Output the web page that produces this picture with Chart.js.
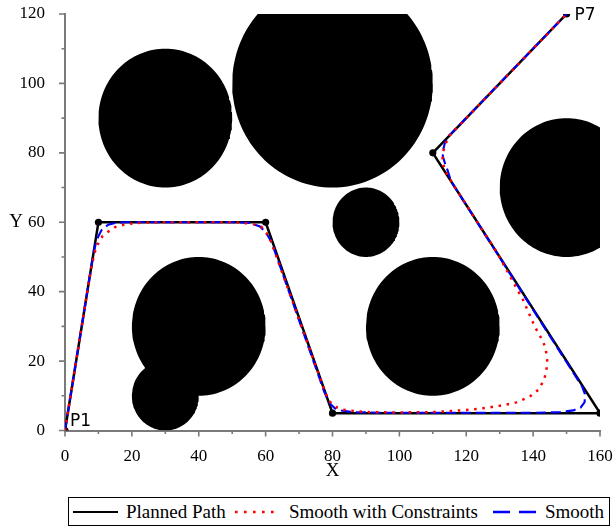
<!DOCTYPE html>
<html>
<head>
<meta charset="utf-8">
<script src="https://cdn.jsdelivr.net/npm/chart.js@4/dist/chart.umd.min.js"></script>
<style>
  body { margin: 0; background: #fff; }
  #wrap { position: relative; width: 614px; height: 528px; }
  #legend {
    position: absolute; left: 68px; top: 497px; width: 542px; height: 29px;
    border: 1px solid #000; box-sizing: border-box;
    font-family: "Liberation Serif", "Times New Roman", serif; font-size: 19px; color: #000;
  }
  .item { position: absolute; top: 0; height: 100%; display: flex; align-items: center; white-space: nowrap; }
  .item svg { display: block; }
</style>
</head>
<body>
<div id="wrap">
  <canvas id="chart" width="614" height="490"></canvas>
  <div id="legend"></div>
</div>
<script>
// Axis ticks
const xTicks = [0, 20, 40, 60, 80, 100, 120, 140, 160];
const yTicks = [0, 20, 40, 60, 80, 100, 120];
const xMinorTicks = [10, 30, 50, 70, 90, 110, 130, 150];
const yMinorTicks = [10, 30, 50, 70, 90, 110];

// Circular obstacles: centre and radius
const obstacleX = [30, 80, 90, 150, 110, 40, 30];
const obstacleY = [90, 100, 60, 70, 30, 30, 10];
const obstacleR = [20, 30, 10, 20, 20, 20, 10];

// Planned path waypoints P1..P7
const pathX = [0, 10, 60, 80, 160, 110, 150];
const pathY = [0, 60, 60, 5, 5, 80, 120];

// Smoothed path that respects the obstacle constraints
const constrainedX = [0, 7.0, 8.0, 8.7, 9.27, 10.26, 11.27, 12.95, 14.95, 18, 22, 28, 50, 55.8, 58.8, 60.6, 61.6,
  77.6, 78.6, 79.6, 81.2, 83.2, 85.2, 90, 100, 110, 115, 120, 125, 130, 135, 139, 141.5, 143.3, 144, 144.2,
  143.8, 143, 140.5, 137, 133.1, 129.3, 116.5, 114.4, 113.3, 112.9, 113.1, 113.9, 115.2, 150];
const constrainedY = [0, 42, 47.5, 50.5, 52.6, 54.5, 56.1, 57.3, 58.6, 59.4, 59.8, 60, 60, 59.6, 58.6, 56.5, 54.5,
  11.6, 9.3, 7.8, 6.7, 6.0, 5.7, 5.3, 5.2, 5.3, 5.6, 5.9, 6.4, 7.1, 8.1, 9.75, 11.7, 14.6, 17.5, 20.3,
  23.2, 25.6, 29.9, 37.6, 44.4, 51.1, 70.3, 73.5, 76, 78.2, 80.4, 82.8, 85.2, 120];

// Unconstrained smoothed path
const smoothX = [0, 8.5, 9.3, 9.96, 10.97, 12.95, 15, 18, 50, 55.3, 58.3, 59.8, 60.8, 61.8,
  77.5, 78.3, 79.4, 80.7, 82.2, 86, 95, 140, 148, 152, 154.2, 155.4, 155.5, 154.7,
  117.3, 115.4, 114.4, 113.6, 113.0, 113.1, 113.6, 114.6, 115.8, 150];
const smoothY = [0, 51, 54.2, 55.9, 57.8, 59.3, 59.8, 60, 60, 59.8, 58.8, 57.3, 55.9, 54.2,
  11.2, 9.6, 7.6, 6.4, 5.8, 5.3, 5.1, 5.1, 5.3, 5.8, 6.6, 8.2, 10.5, 12.6,
  69, 72, 75, 77.1, 79, 80.9, 82.8, 84.7, 85.9, 120];

const seriesNames = ['Planned Path', 'Smooth with Constraints', 'Smooth'];
const pointNames = ['P1', 'P7'];

const axisColor = '#7a7a7a';
const serif = '"Liberation Serif", "Times New Roman", serif';

const zip = (xs, ys) => xs.map((x, i) => ({ x, y: ys[i] }));

// Outline of each obstacle disc, traced in data units
function discOutline(cx, cy, r) {
  const pts = [];
  const n = 144;
  for (let k = 0; k <= n; k++) {
    const a = (2 * Math.PI * k) / n;
    pts.push({ x: cx + r * Math.cos(a), y: cy + r * Math.sin(a) });
  }
  return pts;
}

const obstacleSets = obstacleX.map((cx, i) => ({
  label: 'obstacle' + i,
  data: discOutline(cx, obstacleY[i], obstacleR[i]),
  borderWidth: 0,
  borderColor: '#000',
  backgroundColor: '#000',
  fill: 'shape',
  pointRadius: 0,
  clip: { left: 0, right: 0, top: 4, bottom: 0 },
  order: 5
}));

const datasets = [
  ...obstacleSets,
  {
    label: seriesNames[0],
    data: zip(pathX, pathY),
    borderColor: '#000',
    borderWidth: 2.5,
    pointRadius: 3.6,
    pointBackgroundColor: '#000',
    pointBorderWidth: 0,
    fill: false,
    order: 3
  },
  {
    label: seriesNames[2],
    data: zip(smoothX, smoothY),
    borderColor: '#0000ff',
    borderWidth: 2.1,
    borderDash: [10, 5],
    pointRadius: 0,
    fill: false,
    order: 2
  },
  {
    label: seriesNames[1],
    data: zip(constrainedX, constrainedY),
    borderColor: '#ff0000',
    borderWidth: 2.5,
    borderDash: [2.5, 5.7],
    pointRadius: 0,
    fill: false,
    order: 1
  }
];

// Tick marks, axis titles and waypoint labels
const axisDecor = {
  id: 'axisDecor',
  afterDraw(chart) {
    const { ctx, scales: { x, y } } = chart;
    const x0 = x.getPixelForValue(0);
    const y0 = y.getPixelForValue(0);
    ctx.save();
    ctx.strokeStyle = axisColor;
    ctx.lineWidth = 1.6;
    ctx.beginPath();
    xTicks.forEach(v => { const p = x.getPixelForValue(v); ctx.moveTo(p, y0); ctx.lineTo(p, y0 + 6); });
    xMinorTicks.forEach(v => { const p = x.getPixelForValue(v); ctx.moveTo(p, y0); ctx.lineTo(p, y0 + 3.5); });
    yTicks.forEach(v => { const p = y.getPixelForValue(v); ctx.moveTo(x0, p); ctx.lineTo(x0 - 6, p); });
    yMinorTicks.forEach(v => { const p = y.getPixelForValue(v); ctx.moveTo(x0, p); ctx.lineTo(x0 - 3.5, p); });
    ctx.stroke();

    ctx.fillStyle = '#000';
    ctx.font = '19px ' + serif;
    ctx.textAlign = 'center';
    ctx.textBaseline = 'middle';
    ctx.fillText('X', (chart.chartArea.left + chart.chartArea.right) / 2, 471);
    ctx.fillText('Y', 16, 222);

    ctx.font = '17px "DejaVu Sans", sans-serif';
    ctx.textAlign = 'left';
    ctx.textBaseline = 'alphabetic';
    ctx.fillText(pointNames[0], x.getPixelForValue(pathX[0]) + 5, y.getPixelForValue(pathY[0]) - 5);
    const last = pathX.length - 1;
    ctx.fillText(pointNames[1], x.getPixelForValue(pathX[last]) + 8, y.getPixelForValue(pathY[last]) + 6);
    ctx.restore();
  }
};

new Chart(document.getElementById('chart'), {
  type: 'line',
  data: { datasets },
  options: {
    responsive: false,
    animation: false,
    events: [],
    layout: { padding: { left: 0, right: 14, top: 14, bottom: 0 } },
    plugins: { legend: { display: false }, tooltip: { enabled: false } },
    elements: { line: { tension: 0 } },
    scales: {
      x: {
        type: 'linear',
        min: 0, max: 160,
        afterBuildTicks: s => { s.ticks = xTicks.map(v => ({ value: v })); },
        afterFit: s => { s.height = 59.5; s.paddingLeft = 0; s.paddingRight = 0; },
        grid: { display: false },
        border: { display: true, color: axisColor, width: 2 },
        ticks: { color: '#000', font: { family: serif, size: 17 }, padding: 8, maxRotation: 0 }
      },
      y: {
        type: 'linear',
        min: 0, max: 120,
        afterBuildTicks: s => { s.ticks = yTicks.map(v => ({ value: v })); },
        afterFit: s => { s.width = 65; s.paddingTop = 0; s.paddingBottom = 0; },
        grid: { display: false },
        border: { display: true, color: axisColor, width: 2 },
        ticks: { color: '#000', font: { family: serif, size: 17 }, padding: 12 }
      }
    }
  },
  plugins: [axisDecor]
});

// Legend row below the plot
const legendSamples = [
  { left: 4, width: 45, color: '#000', dash: '', width2: 2 },
  { left: 166, width: 44, color: '#ff0000', dash: '2.6 6.4', width2: 2.6 },
  { left: 424, width: 45, color: '#0000ff', dash: '17 9', width2: 2.6 }
];
const legendTextLeft = [57, 220, 476];
const legendEl = document.getElementById('legend');
seriesNames.forEach((name, i) => {
  const s = legendSamples[i];
  const sample = document.createElement('div');
  sample.className = 'item';
  sample.style.left = s.left + 'px';
  sample.innerHTML = '<svg width="' + s.width + '" height="10"><line x1="0" y1="5" x2="' + s.width +
    '" y2="5" stroke="' + s.color + '" stroke-width="' + s.width2 + '"' +
    (s.dash ? ' stroke-dasharray="' + s.dash + '"' : '') + '/></svg>';
  legendEl.appendChild(sample);
  const text = document.createElement('div');
  text.className = 'item';
  text.style.left = legendTextLeft[i] + 'px';
  text.textContent = name;
  legendEl.appendChild(text);
});
</script>
</body>
</html>
